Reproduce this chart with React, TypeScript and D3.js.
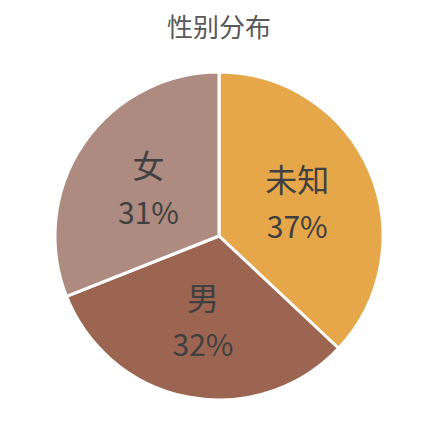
import * as d3 from "d3";
import { useEffect, useRef } from "react";

const categories = ["未知", "男", "女"];
const values = [37, 32, 31];
const colors = ["#E6A64A", "#9C6551", "#AE8B80"];
const title = "性别分布";

const WIDTH = 432;
const HEIGHT = 422;

export default function App() {
  const ref = useRef<SVGSVGElement>(null);

  useEffect(() => {
    if (!ref.current) return;
    const svg = d3.select(ref.current);
    svg.selectAll("*").remove();

    const cx = 219;
    const cy = 236;
    const radius = 164;

    svg
      .append("rect")
      .attr("width", WIDTH)
      .attr("height", HEIGHT)
      .attr("fill", "#ffffff");

    svg
      .append("text")
      .attr("x", cx)
      .attr("y", 25)
      .attr("text-anchor", "middle")
      .attr("dominant-baseline", "central")
      .style("font-family", "'Noto Sans CJK SC', sans-serif")
      .style("font-size", "26px")
      .style("fill", "#595959")
      .text(title);

    const data = categories.map((c, i) => ({ label: c, value: values[i], color: colors[i] }));
    const total = d3.sum(values);

    const pie = d3
      .pie<(typeof data)[number]>()
      .value((d) => d.value)
      .sort(null);

    const arc = d3
      .arc<d3.PieArcDatum<(typeof data)[number]>>()
      .innerRadius(0)
      .outerRadius(radius);

    const labelArc = d3
      .arc<d3.PieArcDatum<(typeof data)[number]>>()
      .innerRadius(radius * 0.52)
      .outerRadius(radius * 0.52);

    const g = svg.append("g").attr("transform", `translate(${cx},${cy})`);

    const arcs = pie(data);

    g.selectAll("path")
      .data(arcs)
      .enter()
      .append("path")
      .attr("d", arc)
      .attr("fill", (d) => d.data.color)
      .attr("stroke", "#ffffff")
      .attr("stroke-width", 3)
      .attr("stroke-linejoin", "round");

    const labels = g
      .selectAll(".label")
      .data(arcs)
      .enter()
      .append("g")
      .attr("class", "label")
      .attr("transform", (d) => `translate(${labelArc.centroid(d)})`)
      .style("font-family", "'Noto Sans CJK SC', sans-serif")
      .style("fill", "#404040");

    labels
      .append("text")
      .attr("text-anchor", "middle")
      .attr("dominant-baseline", "central")
      .attr("y", -24)
      .style("font-size", "32px")
      .text((d) => d.data.label);

    labels
      .append("text")
      .attr("text-anchor", "middle")
      .attr("dominant-baseline", "central")
      .attr("y", 23)
      .style("font-size", "30px")
      .text((d) => `${Math.round((d.data.value / total) * 100)}%`);
  }, []);

  return (
    <svg
      ref={ref}
      width={WIDTH}
      height={HEIGHT}
      style={{ position: "absolute", left: 0, top: 0, display: "block" }}
    />
  );
}
